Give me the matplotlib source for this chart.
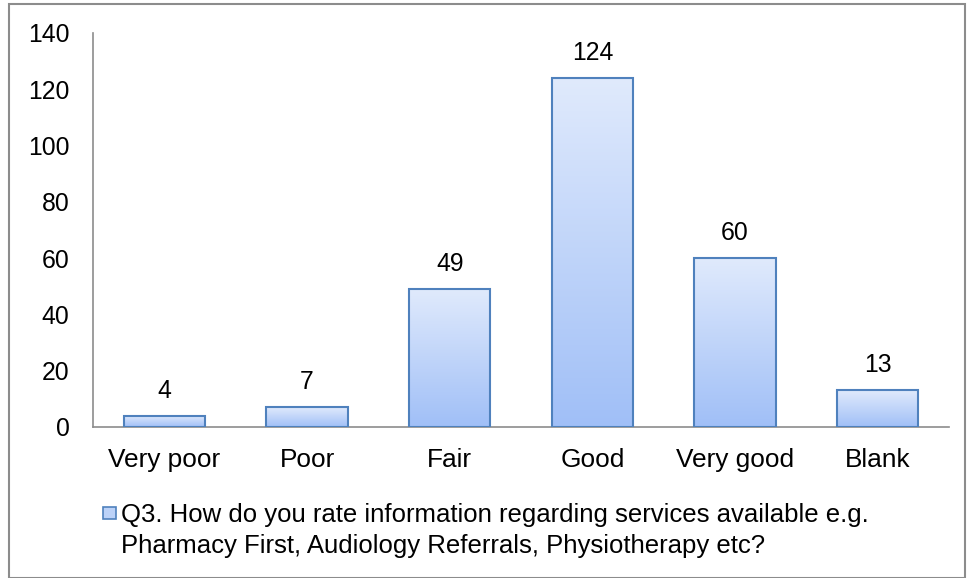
import matplotlib.pyplot as plt
import numpy as np
from matplotlib.colors import LinearSegmentedColormap
from matplotlib.patches import Rectangle

plt.rcParams['font.family'] = ['Liberation Sans', 'DejaVu Sans']

categories = ["Very poor", "Poor", "Fair", "Good", "Very good", "Blank"]
counts = [4, 7, 49, 124, 60, 13]
legend_lines = ["Q3. How do you rate information regarding services available e.g.",
                "Pharmacy First, Audiology Referrals, Physiotherapy etc?"]

W, H = 968, 578
fig = plt.figure(figsize=(W / 100, H / 100), dpi=100)
ax = fig.add_axes([93 / W, 1 - 427 / H, (949 - 93) / W, (427 - 33) / H])

grad = LinearSegmentedColormap.from_list("g", ["#a0bff7", "#e0eafc"])
edge = "#4f81bd"
width = 0.57
text_size = 18.5
num_size = 17.8

x = np.arange(len(categories))
bars = ax.bar(x, counts, width=width, color="none", edgecolor=edge, linewidth=1.5, zorder=3)
for b, v in zip(bars, counts):
    x0, y0 = b.get_x(), b.get_y()
    im = ax.imshow(np.linspace(0, 1, 256).reshape(-1, 1), cmap=grad, aspect="auto",
                   origin="lower", extent=[x0, x0 + b.get_width(), y0, y0 + b.get_height()],
                   zorder=2)
    im.set_clip_path(b)
    ax.annotate(str(v), (b.get_x() + b.get_width() / 2, v), xytext=(0, 13),
                textcoords="offset points", ha="center", va="baseline", fontsize=num_size)

ax.set_xlim(-0.5, len(categories) - 0.5)
ax.set_ylim(0, 140)
ax.set_yticks(range(0, 141, 20))
ax.set_xticks(x)
ax.set_xticklabels(categories, fontsize=18.9)
ax.tick_params(axis="y", length=0, labelsize=num_size, pad=17)
ax.tick_params(axis="x", length=0, pad=15)
for s in ["top", "right"]:
    ax.spines[s].set_visible(False)
for s in ["left", "bottom"]:
    ax.spines[s].set_color("#8c8c8c")
    ax.spines[s].set_linewidth(1.2)

# legend
fig.patches.append(Rectangle((103 / W, 1 - 519 / H), 13 / W, 12 / H, transform=fig.transFigure,
                             facecolor="#bcd2f8", edgecolor=edge, linewidth=1.2))
for i, line in enumerate(legend_lines):
    fig.text(121 / W, 1 - (522 + 31 * i) / H, line, fontsize=text_size, va="baseline", ha="left")

fig.patches.append(Rectangle((9 / W, 0), 956 / W, 1 - 4 / H, transform=fig.transFigure,
                             facecolor="none", edgecolor="#8c8c8c", linewidth=1.5))

fig.savefig("out.png", dpi=100)
